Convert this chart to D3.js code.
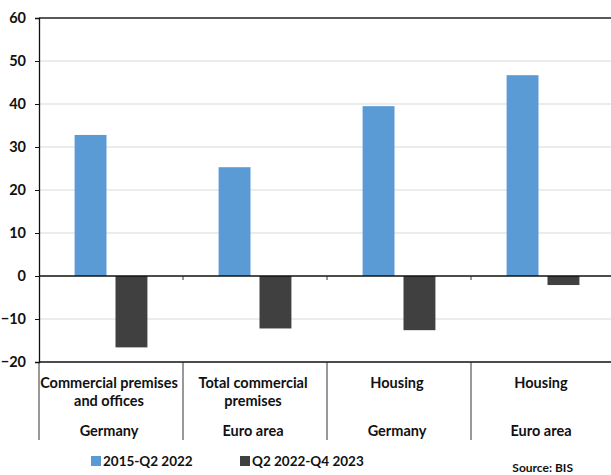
<!DOCTYPE html>
<html>
<head>
<meta charset="utf-8">
<script src="https://cdn.jsdelivr.net/npm/d3@7"></script>
<style>
  html, body { margin: 0; padding: 0; background: #fff; }
  svg { display: block; }
  text { font-family: Lato, "Open Sans", sans-serif; font-weight: bold; fill: #111; }
</style>
</head>
<body>
<svg id="chart" width="611" height="475"></svg>
<script>
// Price change by segment, in per cent
const categories = ["Commercial premises and offices", "Total commercial premises", "Housing", "Housing"];
const categoryLines = [["Commercial premises", "and offices"], ["Total commercial", "premises"], ["Housing"], ["Housing"]];
const regions = ["Germany", "Euro area", "Germany", "Euro area"];
const seriesNames = ["2015-Q2 2022", "Q2 2022-Q4 2023"];
const boomValues = [32.8, 25.3, 39.5, 46.7];
const correctionValues = [-16.6, -12.2, -12.6, -2.1];
const yTicks = [-20, -10, 0, 10, 20, 30, 40, 50, 60];
const seriesColors = ["#5b9bd5", "#404040"];

const svg = d3.select("#chart");
const margin = { left: 39, top: 18, right: -4, bottom: 113 };
const W = 611, H = 475;
const x0 = margin.left, x1 = W - margin.right;
const yTop = margin.top, yBot = H - margin.bottom;

const y = d3.scaleLinear().domain([-20, 60]).range([yBot, yTop]);
const x = d3.scaleBand().domain(d3.range(categories.length)).range([x0, x1]).padding(0);
const xs = d3.scaleBand().domain([0, 1]).range([0, x.bandwidth()]).paddingInner(0.22).paddingOuter(0.87);

// gridlines
svg.append("g").selectAll("line")
  .data(yTicks.filter(t => t !== 0 && t !== -20 && t !== 60))
  .join("line")
  .attr("x1", x0).attr("x2", x1)
  .attr("y1", d => y(d)).attr("y2", d => y(d))
  .attr("stroke", "#d9d9d9").attr("stroke-width", 1);

// bars
const rows = categories.map((c, i) => [boomValues[i], correctionValues[i]]);
const g = svg.append("g");
rows.forEach((vals, i) => {
  g.selectAll(null).data(vals).join("rect")
    .attr("x", (d, j) => x(i) + xs(j))
    .attr("width", xs.bandwidth())
    .attr("y", d => y(Math.max(0, d)))
    .attr("height", d => Math.abs(y(d) - y(0)))
    .attr("fill", (d, j) => seriesColors[j]);
});

// top border
svg.append("line").attr("x1", x0).attr("x2", x1)
  .attr("y1", y(60)).attr("y2", y(60)).attr("stroke", "#222").attr("stroke-width", 1.5);

// zero line with category ticks
svg.append("line").attr("x1", x0).attr("x2", x1)
  .attr("y1", y(0)).attr("y2", y(0)).attr("stroke", "#111").attr("stroke-width", 1.3);
svg.append("g").selectAll("line").data(d3.range(1, categories.length)).join("line")
  .attr("x1", d => x(d)).attr("x2", d => x(d))
  .attr("y1", y(0)).attr("y2", y(0) + 4)
  .attr("stroke", "#333").attr("stroke-width", 1);

// bottom axis line and category separators
svg.append("line").attr("x1", x0).attr("x2", x1)
  .attr("y1", y(-20)).attr("y2", y(-20)).attr("stroke", "#111").attr("stroke-width", 1.3);
svg.append("g").selectAll("line").data(d3.range(0, categories.length)).join("line")
  .attr("x1", d => x(d)).attr("x2", d => x(d))
  .attr("y1", y(-20)).attr("y2", y(-20) + 78)
  .attr("stroke", "#333").attr("stroke-width", 1);

// y axis
const yAxis = d3.axisLeft(y).tickValues(yTicks).tickSize(4).tickPadding(9);
const ya = svg.append("g").attr("transform", `translate(${x0},0)`).call(yAxis);
ya.select(".domain").attr("stroke", "#111").attr("stroke-width", 1.3);
ya.selectAll(".tick line").attr("stroke", "#111");
ya.selectAll(".tick text").style("font-size", "14.5px").attr("fill", "#111")
  .style("font-family", "Lato, 'Open Sans', sans-serif").style("font-weight", "bold");

// category labels
categoryLines.forEach((lines, i) => {
  const cx = x(i) + x.bandwidth() / 2 - 2;
  lines.forEach((ln, k) => {
    svg.append("text").attr("x", cx).attr("y", 388 + k * 18)
      .attr("text-anchor", "middle").style("font-size", "14.5px").text(ln);
  });
  svg.append("text").attr("x", cx).attr("y", 436)
    .attr("text-anchor", "middle").style("font-size", "14.5px").text(regions[i]);
});

// legend
const legendX = [91, 240];
seriesNames.forEach((s, j) => {
  svg.append("rect").attr("x", legendX[j]).attr("y", 456).attr("width", 10).attr("height", 10)
    .attr("fill", seriesColors[j]);
  svg.append("text").attr("x", legendX[j] + 12).attr("y", 466)
    .style("font-size", "13.5px").text(s);
});

// source note
svg.append("text").attr("x", 573).attr("y", 472).attr("text-anchor", "end")
  .style("font-size", "12px").text("Source: BIS");
</script>
</body>
</html>
